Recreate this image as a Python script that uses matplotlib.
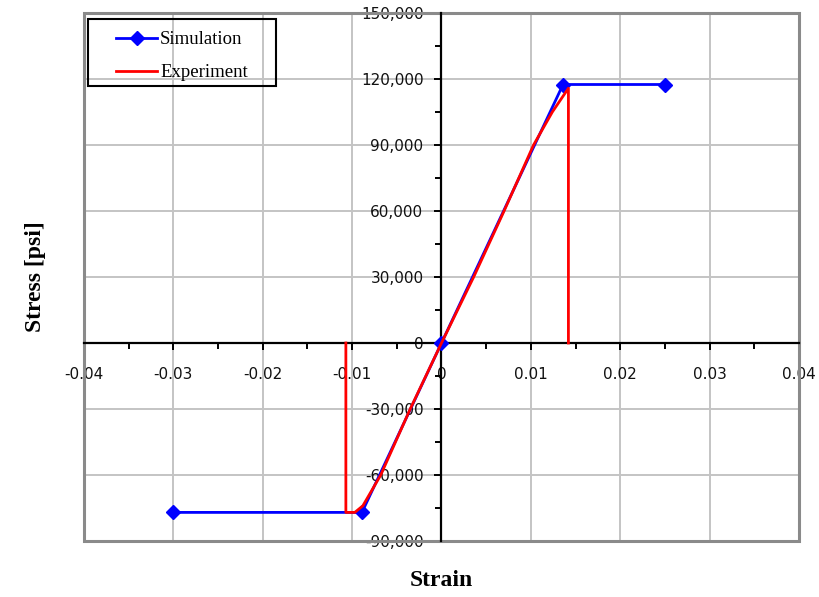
import matplotlib
matplotlib.use("Agg")
import matplotlib.pyplot as plt
from matplotlib.ticker import MultipleLocator, FuncFormatter
from matplotlib.patches import Rectangle
from matplotlib.lines import Line2D

# Simulation (bilinear model)
sim_strain = [-0.03, -0.0089, 0.0, 0.0136, 0.025]
sim_stress = [-77000, -77000, 0, 117500, 117500]

# Experiment
exp_strain = [-0.0107, -0.0107, -0.0097, -0.0088, -0.0068, -0.0035, 0.0,
              0.0036, 0.0070, 0.0103, 0.0124, 0.0142, 0.0142]
exp_stress = [0, -77000, -77000, -74000, -60000, -30000, 0,
              30000, 60000, 90000, 105000, 115800, 0]

x_ticks = [-0.04, -0.03, -0.02, -0.01, 0.0, 0.01, 0.02, 0.03, 0.04]
y_ticks = [-90000, -60000, -30000, 0, 30000, 60000, 90000, 120000, 150000]

W, H = 820, 597
fig = plt.figure(figsize=(W / 100, H / 100), dpi=100)
ax = fig.add_axes([84 / W, 1 - 541 / H, (799 - 84) / W, (541 - 13) / H])

ax.set_xlim(x_ticks[0], x_ticks[-1])
ax.set_ylim(y_ticks[0], y_ticks[-1])
ax.set_xticks(x_ticks)
ax.set_yticks(y_ticks)
ax.xaxis.set_minor_locator(MultipleLocator(0.005))
ax.yaxis.set_minor_locator(MultipleLocator(15000))

def fmt_x(v, pos):
    v = round(v, 4)
    return "0" if v == 0 else f"{v:g}"

def fmt_y(v, pos):
    return f"{v:,.0f}"

ax.xaxis.set_major_formatter(FuncFormatter(fmt_x))
ax.yaxis.set_major_formatter(FuncFormatter(fmt_y))

ax.grid(True, which="major", color="#c4c4c4", linewidth=1.4)
ax.set_axisbelow(True)

# axes crossing at the origin
for s in ("top", "right"):
    ax.spines[s].set_visible(False)
ax.spines["left"].set_position(("data", 0))
ax.spines["bottom"].set_position(("data", 0))
for s in ("left", "bottom"):
    ax.spines[s].set_color("black")
    ax.spines[s].set_linewidth(1.6)
    ax.spines[s].set_zorder(2.5)

ax.add_patch(Rectangle((0, 0), 1, 1, transform=ax.transAxes, fill=False,
                       edgecolor="#8a8a8a", linewidth=2.2, clip_on=False, zorder=1))

ax.tick_params(axis="x", which="major", direction="out", length=5, width=1.4,
               pad=12, labelsize=11, colors="black")
ax.tick_params(axis="x", which="minor", direction="out", length=4, width=1.4)
ax.tick_params(axis="y", which="major", direction="out", length=5, width=1.4,
               pad=8, labelsize=11, colors="black")
ax.tick_params(axis="y", which="minor", direction="out", length=4, width=1.4)
for lab in ax.get_xticklabels() + ax.get_yticklabels():
    lab.set_color("#111111")

ax.plot(sim_strain, sim_stress, color="#0000ff", linewidth=2, marker="D",
        markersize=7, zorder=3, clip_on=False)
ax.plot(exp_strain, exp_stress, color="#ff0000", linewidth=2, zorder=4)

# legend: frameless entries inside a drawn box
handles = [Line2D([], [], color="#0000ff", linewidth=2, marker="D", markersize=7),
           Line2D([], [], color="#ff0000", linewidth=2)]
leg = ax.legend(handles, ["Simulation", "Experiment"], loc="upper left",
                bbox_to_anchor=(116 / W, 1 - 31 / H),
                bbox_transform=fig.transFigure, frameon=False,
                handlelength=2.2, borderpad=0, labelspacing=0.85,
                handletextpad=0.15, borderaxespad=0,
                prop={"family": "Liberation Serif", "size": 13.5})
fig.patches.append(Rectangle((88 / W, 1 - 86 / H), (276 - 88) / W, (86 - 19) / H,
                             transform=fig.transFigure, fill=False,
                             edgecolor="black", linewidth=1.5, zorder=5))
leg.set_zorder(6)

fig.text(441 / W, 1 - 581 / H, "Strain", ha="center", va="center",
         family="Liberation Serif", weight="bold", fontsize=17)
fig.text(35 / W, 1 - 277 / H, "Stress [psi]", ha="center", va="center",
         rotation=90, family="Liberation Serif", weight="bold", fontsize=17)

fig.savefig("out.png", dpi=100)
